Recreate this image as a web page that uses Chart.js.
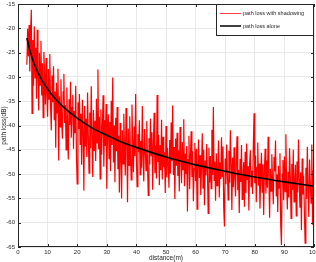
<!DOCTYPE html>
<html>
<head>
<meta charset="utf-8">
<script src="https://cdn.jsdelivr.net/npm/chart.js@4"></script>
<style>
  html, body { margin: 0; padding: 0; background: #fff; overflow: hidden; }
  #c { display: block; }
</style>
</head>
<body>
<canvas id="c" width="316" height="262"></canvas>
<script>
/* ── Data ── */
const xTicks = [0, 10, 20, 30, 40, 50, 60, 70, 80, 90, 100];
const yTicks = [-65, -60, -55, -50, -45, -40, -35, -30, -25, -20, -15];

// shadowing samples, one every 0.25 m from 3 m to 100 m
const SAMPLE_START = 3, SAMPLE_STEP = 0.25;
const shadowLoss = [
  -27.5, -20.1, -25.8, -19.3,
  -28.9, -21.0, -16.2, -37.5,
  -22.4, -31.8, -19.6, -30.2,
  -24.0, -34.5, -20.3, -29.8,
  -36.9, -25.1, -31.7, -22.6,
  -33.8, -27.2, -38.4, -24.9,
  -29.5, -35.7, -26.1, -33.9,
  -38.2, -28.4, -34.6, -25.3,
  -36.1, -41.0, -29.7, -35.2,
  -27.8, -38.9, -33.0, -44.6,
  -31.2, -37.4, -28.3, -47.2,
  -34.0, -40.3, -30.5, -38.8,
  -42.7, -33.1, -29.4, -39.5,
  -35.8, -45.0, -32.2, -40.1,
  -47.0, -34.6, -39.9, -31.0,
  -42.5, -36.3, -33.7, -44.8,
  -37.0, -41.6, -31.8, -46.3,
  -52.0, -35.2, -40.7, -33.5,
  -43.9, -37.6, -48.1, -34.7,
  -41.2, -53.4, -36.0, -44.3,
  -38.6, -46.5, -33.2, -42.0,
  -49.8, -37.3, -44.7, -31.9,
  -42.4, -50.6, -36.8, -45.2,
  -39.0, -47.3, -34.5, -43.6,
  -28.5, -44.9, -38.2, -51.0,
  -36.7, -46.0, -40.4, -33.8,
  -48.5, -38.9, -44.2, -35.6,
  -53.0, -41.5, -37.7, -46.8,
  -39.3, -49.4, -34.9, -44.0,
  -30.1, -47.6, -40.0, -51.7,
  -38.4, -45.3, -36.2, -49.0,
  -42.1, -53.8, -39.5, -46.7,
  -55.0, -41.0, -47.9, -37.6,
  -44.8, -50.3, -36.4, -42.5,
  -55.8, -40.6, -48.2, -38.1,
  -45.9, -51.2, -35.7, -43.8,
  -49.6, -40.2, -46.3, -33.5,
  -47.1, -52.6, -41.8, -45.5,
  -38.9, -50.1, -43.2, -48.7,
  -36.0, -46.4, -51.5, -40.7,
  -44.9, -49.3, -39.1, -47.8,
  -54.4, -42.6, -48.0, -38.6,
  -46.2, -41.4, -53.2, -43.7,
  -37.4, -49.8, -44.1, -50.9,
  -33.7, -47.5, -41.9, -52.3,
  -44.0, -49.2, -38.8, -51.1,
  -42.3, -48.6, -45.5, -53.9,
  -40.1, -50.7, -44.6, -47.9,
  -52.8, -43.0, -49.9, -39.4,
  -47.3, -35.9, -50.2, -44.4,
  -55.1, -42.7, -48.3, -41.5,
  -50.4, -45.1, -53.6, -40.3,
  -46.0, -51.9, -43.4, -49.1,
  -38.7, -52.5, -45.8, -50.0,
  -44.2, -57.7, -47.0, -42.1,
  -53.1, -46.4, -41.2, -50.6,
  -45.3, -55.6, -48.8, -43.6,
  -51.4, -44.8, -57.2, -47.6,
  -42.9, -50.8, -46.1, -54.3,
  -48.7, -41.6, -52.9, -45.0,
  -56.4, -47.2, -50.3, -43.8,
  -49.5, -58.1, -44.6, -51.7,
  -46.3, -53.0, -40.9, -50.2,
  -36.2, -51.3, -47.4, -55.5,
  -45.7, -52.4, -48.9, -43.1,
  -54.8, -47.6, -51.0, -42.4,
  -50.5, -44.3, -56.9, -60.8,
  -46.8, -52.1, -43.9, -49.7,
  -55.3, -45.2, -51.8, -41.0,
  -48.0, -57.4, -46.6, -52.7,
  -44.5, -50.9, -54.6, -47.3,
  -42.2, -53.3, -49.1, -58.0,
  -46.9, -51.6, -44.0, -55.2,
  -50.8, -47.5, -56.7, -45.4,
  -53.9, -43.7, -51.2, -48.4,
  -57.5, -47.9, -45.1, -52.6,
  -49.3, -54.1, -44.2, -37.5,
  -51.9, -46.2, -55.8, -48.6,
  -43.5, -52.4, -47.8, -57.1,
  -50.2, -45.6, -53.7, -48.0,
  -58.4, -49.1, -44.8, -54.0,
  -47.2, -52.8, -42.3, -50.5,
  -59.0, -48.9, -53.5, -45.9,
  -51.7, -56.2, -46.5, -49.4,
  -43.1, -54.6, -50.1, -57.8,
  -48.3, -52.9, -45.7, -60.3,
  -64.6, -50.0, -47.1, -55.4,
  -46.4, -53.6, -41.8, -52.2,
  -57.3, -49.5, -54.8, -44.7,
  -50.6, -59.1, -47.9, -53.3,
  -45.0, -55.7, -51.4, -48.1,
  -58.6, -47.4, -53.8, -42.9,
  -51.0, -56.9, -49.6, -61.5,
  -46.8, -54.2, -50.3, -57.6,
  -64.2, -48.7, -55.1, -44.4,
  -53.4, -58.8, -47.0, -51.8,
  -56.0, -43.9, -60.4, -49.2,
  -53.1
];

// mean path loss
const meanDist = [3, 4, 5, 6, 8, 10, 12, 15, 20, 25, 30, 35, 40, 50, 60, 70, 80, 90, 100];
const meanLoss = [-22.0, -24.5, -26.5, -28.1, -30.6, -32.5, -34.1, -36.0, -38.5, -40.5, -42.0, -43.4, -44.5, -46.5, -48.1, -49.4, -50.6, -51.6, -52.5];

const legendLabels = ['path loss with shadowing', 'path loss alone'];

/* ── Build ── */
const shadowPts = shadowLoss.map((v, i) => ({ x: SAMPLE_START + i * SAMPLE_STEP, y: v }));
const meanPts = meanDist.map((d, i) => ({ x: d, y: meanLoss[i] }));

const FONT = '"Liberation Sans", Arial, sans-serif';
const INK = '#262626';

const framePlugin = {
  id: 'frame',
  afterDatasetsDraw(chart) {
    const { ctx, chartArea: a, scales: { x, y } } = chart;
    ctx.save();
    ctx.strokeStyle = INK; ctx.lineWidth = 1;
    ctx.strokeRect(Math.round(a.left) + 0.5, Math.round(a.top) + 0.5, Math.round(a.right - a.left) - 1, Math.round(a.bottom - a.top) - 1);
    // inward tick marks, MATLAB style
    ctx.beginPath();
    xTicks.forEach(v => {
      const px = Math.round(x.getPixelForValue(v)) + 0.5;
      ctx.moveTo(px, a.bottom); ctx.lineTo(px, a.bottom - 3);
      ctx.moveTo(px, a.top);    ctx.lineTo(px, a.top + 3);
    });
    yTicks.forEach(v => {
      const py = Math.round(y.getPixelForValue(v)) + 0.5;
      ctx.moveTo(a.left, py);  ctx.lineTo(a.left + 3, py);
      ctx.moveTo(a.right, py); ctx.lineTo(a.right - 3, py);
    });
    ctx.stroke();

    // legend box
    const lx = 216.5, ly = Math.round(a.top) + 0.5, lw = Math.round(a.right) - 217, lh = 31;
    ctx.fillStyle = '#fff';
    ctx.fillRect(lx, ly, lw, lh);
    ctx.strokeRect(lx, ly, lw, lh);
    ctx.font = '5.5px ' + FONT;
    ctx.textBaseline = 'middle';
    ctx.fillStyle = INK;
    const rows = [{ c: '#ff4040', w: 1, yy: ly + 9 }, { c: '#000000', w: 1.5, yy: ly + 21.5 }];
    rows.forEach((r, i) => {
      ctx.strokeStyle = r.c; ctx.lineWidth = r.w;
      ctx.beginPath(); ctx.moveTo(220, r.yy); ctx.lineTo(241, r.yy); ctx.stroke();
      ctx.fillText(legendLabels[i], 243, r.yy);
    });
    ctx.restore();
  }
};

new Chart(document.getElementById('c'), {
  type: 'line',
  data: {
    datasets: [
      { label: legendLabels[1], data: meanPts, borderColor: '#000000', borderWidth: 1.6, pointRadius: 0, cubicInterpolationMode: 'monotone', order: 0 },
      { label: legendLabels[0], data: shadowPts, borderColor: '#ff0000', borderWidth: 1.2, pointRadius: 0, tension: 0, order: 1 }
    ]
  },
  options: {
    responsive: false,
    animation: false,
    devicePixelRatio: 1,
    layout: { padding: { left: 0, top: 4, right: 2, bottom: 0 } },
    plugins: { legend: { display: false }, tooltip: { enabled: false } },
    scales: {
      x: {
        type: 'linear', min: 0, max: 100,
        afterBuildTicks: s => { s.ticks = xTicks.map(v => ({ value: v })); },
        afterFit: s => { s.height = 15; s.paddingLeft = 0; s.paddingRight = 0; },
        grid: { color: '#e8e8e8', drawTicks: false },
        border: { display: false },
        ticks: { padding: 2, color: INK, font: { family: FONT, size: 6 }, maxRotation: 0 },
        title: { display: true, text: 'distance(m)', color: INK, font: { family: FONT, size: 6.5 }, padding: 0 }
      },
      y: {
        min: -65, max: -15,
        afterBuildTicks: s => { s.ticks = yTicks.map(v => ({ value: v })); },
        afterFit: s => { s.width = 18; s.paddingTop = 0; s.paddingBottom = 0; },
        grid: { color: '#e8e8e8', drawTicks: false },
        border: { display: false },
        ticks: { padding: 3, color: INK, font: { family: FONT, size: 6 } },
        title: { display: true, text: 'path loss(dB)', color: INK, font: { family: FONT, size: 6.5 }, padding: 0 }
      }
    }
  },
  plugins: [framePlugin]
});
</script>
</body>
</html>
